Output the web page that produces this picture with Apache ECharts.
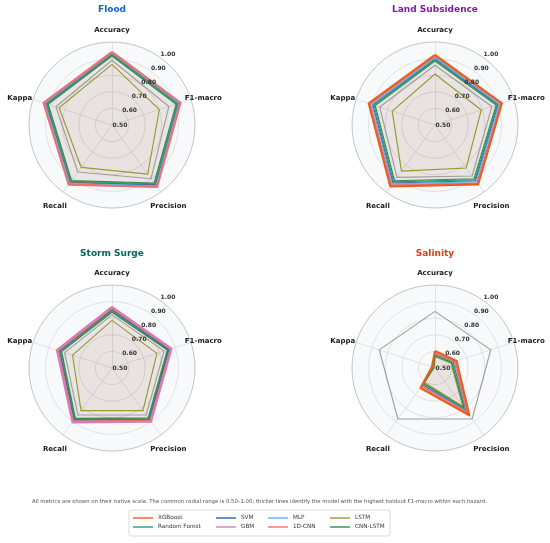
<!DOCTYPE html>
<html><head><meta charset="utf-8">
<script src="https://cdn.jsdelivr.net/npm/echarts@6/dist/echarts.min.js"></script>
<style>html,body{margin:0;padding:0;background:#fff}#c{width:550px;height:543px}</style>
</head><body><div id="c"></div>
<script>
// ---------- data ----------
const hazards = ['Flood', 'Land Subsidence', 'Storm Surge', 'Salinity'];
const metrics = ['Accuracy', 'F1-macro', 'Precision', 'Recall', 'Kappa'];
const models = ['XGBoost', 'Random Forest', 'SVM', 'GBM', 'MLP', '1D-CNN', 'LSTM', 'CNN-LSTM', 'Other'];
const radialTicks = [0.5, 0.6, 0.7, 0.8, 0.9, 1.0];
const bestModel = ['1D-CNN', 'XGBoost', 'GBM', 'XGBoost'];
// rows follow `models`; columns follow `metrics`
const floodValues = [
  [0.926, 0.916, 0.944, 0.925, 0.915],
  [0.921, 0.912, 0.938, 0.920, 0.910],
  [0.930, 0.921, 0.948, 0.930, 0.920],
  [0.936, 0.928, 0.956, 0.938, 0.928],
  [0.933, 0.925, 0.952, 0.934, 0.924],
  [0.940, 0.934, 0.962, 0.944, 0.934],
  [0.865, 0.800, 0.866, 0.816, 0.835],
  [0.916, 0.906, 0.932, 0.914, 0.904],
  [0.890, 0.860, 0.900, 0.850, 0.855]
];
const subsidenceValues = [
  [0.922, 0.924, 0.942, 0.958, 0.920],
  [0.893, 0.894, 0.908, 0.924, 0.886],
  [0.900, 0.901, 0.916, 0.932, 0.894],
  [0.912, 0.913, 0.930, 0.945, 0.908],
  [0.905, 0.906, 0.922, 0.938, 0.900],
  [0.916, 0.917, 0.935, 0.950, 0.913],
  [0.807, 0.793, 0.820, 0.844, 0.771],
  [0.886, 0.887, 0.900, 0.915, 0.878],
  [0.860, 0.860, 0.880, 0.890, 0.850]
];
const surgeValues = [
  [0.846, 0.858, 0.880, 0.884, 0.828],
  [0.841, 0.854, 0.876, 0.880, 0.824],
  [0.852, 0.862, 0.884, 0.889, 0.833],
  [0.869, 0.877, 0.900, 0.905, 0.849],
  [0.862, 0.872, 0.895, 0.899, 0.843],
  [0.858, 0.868, 0.890, 0.895, 0.839],
  [0.787, 0.785, 0.817, 0.817, 0.750],
  [0.836, 0.850, 0.871, 0.875, 0.819],
  [0.820, 0.830, 0.850, 0.850, 0.800]
];
const salinityValues = [
  [0.602, 0.637, 0.852, 0.649, 0.520],
  [0.582, 0.616, 0.818, 0.626, 0.512],
  [0.580, 0.613, 0.812, 0.622, 0.511],
  [0.586, 0.622, 0.828, 0.632, 0.513],
  [0.578, 0.610, 0.806, 0.619, 0.510],
  [0.590, 0.628, 0.836, 0.637, 0.515],
  [0.568, 0.600, 0.786, 0.608, 0.506],
  [0.575, 0.606, 0.798, 0.615, 0.509],
  [0.841, 0.853, 0.880, 0.880, 0.853]
];
const caption = 'All metrics are shown on their native scale. The common radial range is 0.50\u20131.00; thicker lines identify the model with the highest holdout F1-macro within each hazard.';

// ---------- styling / layout ----------
const allValues = [floodValues, subsidenceValues, surgeValues, salinityValues];
const modelColors = ['#e8601c', '#1fa27a', '#1f63b4', '#d77bbc', '#5bb5ef', '#ef6f6c', '#9a9a2e', '#2f8f3f', '#9e9e9e'];
const fillColors = ['#e8601c', '#8a9a70', '#8f7f90', '#d77bbc', '#b0a0a0', '#ef6f6c', '#9a9a2e', '#8a8a60', '#9e9e9e'];
const titleColors = ['#1565c0', '#7b1fa2', '#00695c', '#d84315'];
const centers = [[112, 125], [435, 125], [112, 368], [435, 368]];
const titleTops = [5, 5, 249, 249];
const R = 83;
const FONT = 'DejaVu Sans';
// ECharts radar goes counter-clockwise: Accuracy(top), Kappa(left), Recall, Precision, F1-macro
const order = [0, 4, 3, 2, 1];
const namePad = {
  'Accuracy': [0, 0, 26, 0],
  'F1-macro': [0, 0, 14, 11],
  'Kappa': [0, 18, 14, 0],
  'Precision': [57, 0, 0, 0],
  'Recall': [57, 7, 0, 0]
};
const rich = {};
metrics.forEach((m, i) => { rich['m' + i] = { padding: namePad[m] }; });

const radar = centers.map(c => ({
  center: c, radius: R, startAngle: 90, shape: 'circle', splitNumber: 5,
  nameGap: -18,
  indicator: order.map(i => ({ name: metrics[i], min: radialTicks[0], max: radialTicks[radialTicks.length - 1] })),
  axisName: {
    color: '#1a1a1a', fontSize: 7, fontWeight: 'bold', fontFamily: FONT,
    formatter: (name) => '{m' + metrics.indexOf(name) + '|' + name + '}',
    rich: rich
  },
  splitLine: { lineStyle: { color: ['#d9d9d9', '#d9d9d9', '#d9d9d9', '#d9d9d9', '#d9d9d9', '#b5b5b5'], width: 0.8 } },
  splitArea: { show: true, areaStyle: { color: ['#f7f9fb'] } },
  axisLine: { lineStyle: { color: '#dadada', width: 0.8 } },
  axisTick: { show: false },
  axisLabel: { show: false }
}));

const series = allValues.map((vals, h) => {
  const idx = models.map((m, i) => i).filter(i => models[i] !== bestModel[h]);
  idx.push(models.indexOf(bestModel[h]));
  return {
    type: 'radar', radarIndex: h, symbol: 'none', silent: true,
    data: idx.map(i => {
      const isBest = models[i] === bestModel[h];
      const isOther = models[i] === 'Other';
      return {
        name: models[i],
        value: order.map(k => vals[i][k]),
        itemStyle: { color: modelColors[i] },
        lineStyle: { color: modelColors[i], width: isBest ? 2.1 : 1.15 },
        areaStyle: { color: fillColors[i], opacity: isOther ? 0 : 0.024 }
      };
    })
  };
});

const legendCols = [[0, 1], [2, 3], [4, 5], [6, 7]];
const legendLefts = [133, 216, 268, 330];
const legend = legendCols.map((col, i) => ({
  orient: 'vertical', left: legendLefts[i], top: 514.5, padding: 0,
  data: col.map(k => models[k]), icon: 'rect', itemWidth: 20, itemHeight: 1.4, itemGap: 2,
  selectedMode: false,
  textStyle: { fontSize: 5.7, color: '#333', fontFamily: FONT, lineHeight: 7 }
}));

const titles = hazards.map((t, i) => ({
  text: t, left: centers[i][0], top: titleTops[i], textAlign: 'center', padding: 0,
  textStyle: { fontSize: 9, fontWeight: 'bold', color: titleColors[i], fontFamily: FONT }
}));
titles.push({
  text: caption, left: 32, top: 499, padding: 0,
  textStyle: { fontSize: 5.35, fontWeight: 'normal', color: '#555', fontFamily: FONT }
});

const option = {
  animation: false,
  backgroundColor: '#fff',
  title: titles,
  radar: radar,
  polar: centers.map(c => ({ center: [c[0] + 8, c[1]], radius: 85.7 })),
  angleAxis: centers.map((c, i) => ({ polarIndex: i, type: 'value', min: 0, max: 360, startAngle: 56, show: false })),
  radiusAxis: centers.map((c, i) => ({
    polarIndex: i, type: 'value', min: radialTicks[0], max: radialTicks[radialTicks.length - 1], interval: 0.1,
    axisLine: { show: false }, axisTick: { show: false }, splitLine: { show: false }, splitArea: { show: false },
    axisLabel: { formatter: v => v.toFixed(2), margin: 0, align: 'center', verticalAlign: 'middle', fontSize: 6, fontWeight: 'bold', color: '#333', fontFamily: FONT, showMinLabel: true, showMaxLabel: true },
    z: 5
  })),
  legend: legend,
  graphic: [{
    type: 'rect', z: -10, silent: true,
    shape: { x: 129, y: 510, width: 261, height: 26, r: 2 },
    style: { fill: '#fff', stroke: '#cfcfcf', lineWidth: 0.8 }
  }],
  series: series
};
const chart = echarts.init(document.getElementById('c'), null, { renderer: 'canvas' });
chart.setOption(option);
</script></body></html>
